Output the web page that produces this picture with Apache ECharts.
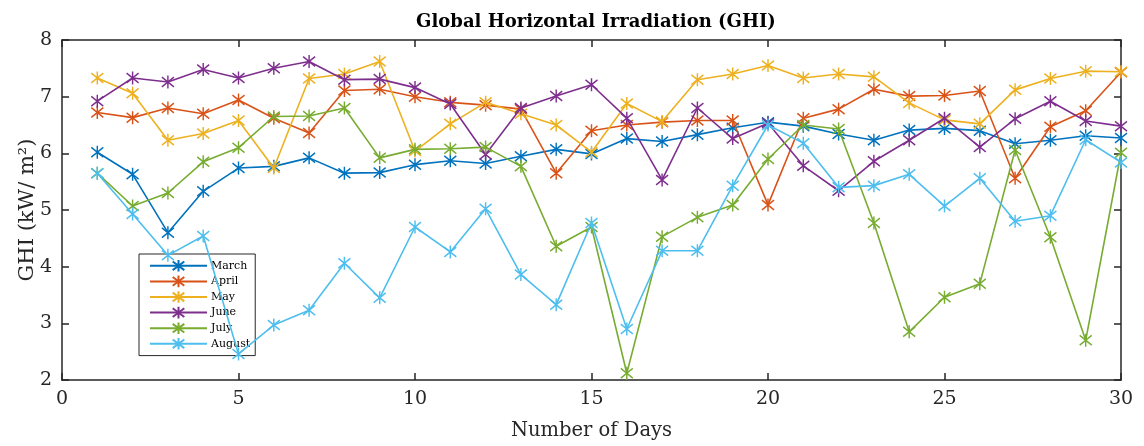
<!DOCTYPE html>
<html>
<head>
<meta charset="utf-8">
<script src="https://cdn.jsdelivr.net/npm/echarts@6/dist/echarts.min.js"></script>
<style>html,body{margin:0;padding:0;background:#fff}#c{width:1144px;height:446px}</style>
</head>
<body>
<div id="c"></div>
<script>
const days = [1,2,3,4,5,6,7,8,9,10,11,12,13,14,15,16,17,18,19,20,21,22,23,24,25,26,27,28,29,30];
const seriesNames = ['March','April','May','June','July','August'];
const march = [6.02,5.63,4.60,5.33,5.74,5.77,5.92,5.65,5.66,5.80,5.87,5.82,5.95,6.07,5.99,6.26,6.21,6.33,6.45,6.55,6.48,6.34,6.23,6.41,6.44,6.40,6.17,6.23,6.31,6.27];
const april = [6.72,6.63,6.80,6.70,6.94,6.62,6.36,7.11,7.13,7.00,6.90,6.85,6.78,5.65,6.40,6.50,6.55,6.58,6.58,5.09,6.62,6.78,7.13,7.01,7.02,7.10,5.56,6.47,6.75,7.43];
const may = [7.33,7.06,6.23,6.35,6.58,5.74,7.32,7.40,7.62,6.04,6.52,6.90,6.70,6.50,6.02,6.88,6.56,7.30,7.40,7.55,7.33,7.40,7.35,6.89,6.59,6.52,7.12,7.32,7.45,7.44];
const june = [6.92,7.33,7.26,7.48,7.33,7.50,7.62,7.30,7.31,7.16,6.87,5.98,6.80,7.01,7.21,6.62,5.53,6.80,6.26,6.53,5.78,5.34,5.86,6.23,6.62,6.11,6.61,6.92,6.57,6.48];
const july = [5.65,5.07,5.30,5.85,6.10,6.65,6.66,6.80,5.92,6.07,6.08,6.11,5.77,4.36,4.70,2.12,4.53,4.87,5.09,5.90,6.50,6.43,4.77,2.85,3.46,3.70,6.06,4.52,2.70,6.01];
const august = [5.65,4.93,4.20,4.54,2.46,2.97,3.23,4.06,3.45,4.70,4.26,5.02,3.86,3.33,4.77,2.90,4.28,4.28,5.43,6.50,6.18,5.40,5.43,5.63,5.07,5.56,4.80,4.90,6.24,5.84];
const xTicks = [0,5,10,15,20,25,30];
const yTicks = [2,3,4,5,6,7,8];

const allValues = [march, april, may, june, july, august];
const colors = ['#0072BD','#D95319','#EDB120','#7E2F8E','#77AC30','#4DBEEE'];
const FONT = 'DejaVu Serif';
const AX = '#262626';
const star = 'path://M0,-10L0,10M-7.5,-7.5L7.5,7.5M-7.5,7.5L7.5,-7.5';

const chart = echarts.init(document.getElementById('c'), null, {renderer:'canvas'});
const axisCommon = {
  type:'value',
  axisLine:{show:true, onZero:false, lineStyle:{color:AX, width:1.5}},
  axisTick:{show:true, inside:true, length:7, lineStyle:{color:AX, width:1.5}},
  splitLine:{show:false},
};
chart.setOption({
  animation:false,
  backgroundColor:'#fff',
  title:{text:'Global Horizontal Irradiation (GHI)', left:591, textAlign:'center', top:8,
    textStyle:{fontFamily:FONT, fontSize:18, fontWeight:'bold', color:'#000'}},
  grid:{left:62, right:23, top:40, bottom:64},
  legend:{
    left:139, top:254, orient:'vertical',
    backgroundColor:'#fff', borderColor:AX, borderWidth:1,
    padding:[5,5,5,10], itemGap:2, itemWidth:57, itemHeight:14.5,
    textStyle:{fontFamily:FONT, fontSize:11, color:'#000', padding:[0,0,0,-1]},
    data: seriesNames
  },
  xAxis:[
    Object.assign({}, axisCommon, {min:0, max:30, interval:5, position:'bottom',
      name:'Number of Days', nameLocation:'middle', nameGap:41, nameMoveOverlap:false,
      nameTextStyle:{fontFamily:FONT, fontSize:19.5, color:AX},
      axisLabel:{fontFamily:FONT, fontSize:19, color:AX, margin:10,
        formatter:v=> xTicks.includes(v)? String(v):''}}),
    Object.assign({}, axisCommon, {min:0, max:30, interval:5, position:'top', axisLabel:{show:false}})
  ],
  yAxis:[
    Object.assign({}, axisCommon, {min:2, max:8, interval:1, position:'left',
      name:'GHI (kW/ m²)', nameLocation:'middle', nameGap:24, nameMoveOverlap:false,
      nameTextStyle:{fontFamily:FONT, fontSize:21, color:AX},
      axisLabel:{fontFamily:FONT, fontSize:19, color:AX, margin:10,
        formatter:v=> yTicks.includes(v)? String(v):''}}),
    Object.assign({}, axisCommon, {min:2, max:8, interval:1, position:'right', axisLabel:{show:false}})
  ],
  series: seriesNames.map((n,i)=>({
    name:n, type:'line',
    data: days.map((d,k)=>[d, allValues[i][k]]),
    symbol:star, symbolSize:[12,13], showSymbol:true,
    lineStyle:{color:colors[i], width:1.6},
    itemStyle:{color:colors[i], borderColor:colors[i], borderWidth:1.5},
    emphasis:{disabled:true},
    z: 2+i
  }))
});
</script>
</body>
</html>
